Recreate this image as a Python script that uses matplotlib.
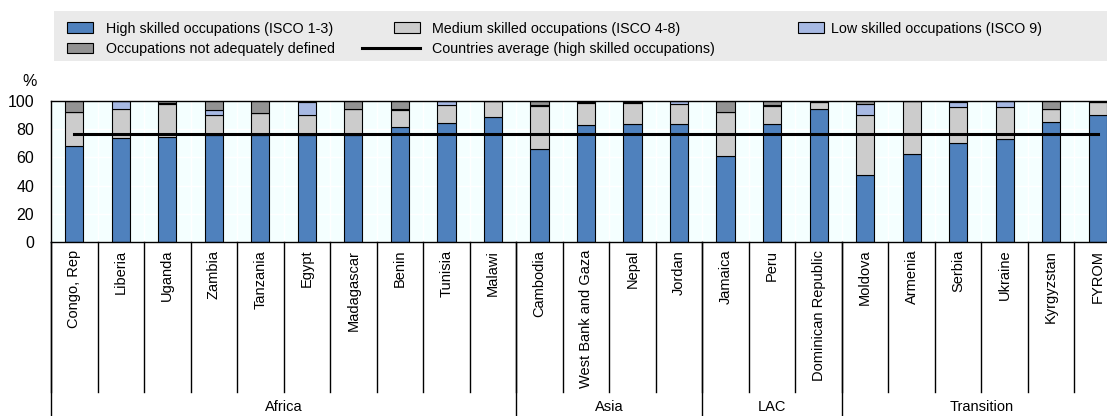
import matplotlib.pyplot as plt
import matplotlib.patches as mpatches
from matplotlib.lines import Line2D
from matplotlib.legend_handler import HandlerPatch
import numpy as np

plt.rcParams['font.family'] = ['Liberation Sans', 'DejaVu Sans']

countries = ['Congo, Rep', 'Liberia', 'Uganda', 'Zambia', 'Tanzania', 'Egypt',
             'Madagascar', 'Benin', 'Tunisia', 'Malawi',
             'Cambodia', 'West Bank and Gaza', 'Nepal', 'Jordan',
             'Jamaica', 'Peru', 'Dominican Republic',
             'Moldova', 'Armenia', 'Serbia', 'Ukraine', 'Kyrgyzstan', 'FYROM']
group_names = ['Africa', 'Asia', 'LAC', 'Transition']
group_sizes = [10, 4, 3, 6]

high = [68, 73.5, 74.5, 76, 76, 76, 76, 81.5, 84.5, 89,
        66, 83, 83.5, 84,
        61, 84, 94,
        47.5, 62.5, 70, 73, 85, 90]
medium = [24, 20.5, 23.5, 14, 15.5, 14, 18.5, 12, 12.5, 11,
          30.5, 15.5, 15, 14,
          31.5, 12.5, 5.5,
          42.5, 37.5, 26, 23, 9, 9]
low = [0, 6, 0.5, 3.5, 0, 9, 0, 0.5, 3, 0,
       0.5, 1, 0.5, 2,
       0, 1, 0,
       8, 0, 3.5, 4, 0, 0]
not_defined = [8, 0, 1.5, 6.5, 8.5, 1, 5.5, 6, 0, 0,
               3, 0.5, 1, 0,
               7.5, 2.5, 0.5,
               2, 0, 0.5, 0, 6, 1]
average = 76.7

c_high = '#4F81BD'
c_med = '#CCCCCC'
c_low = '#A7B9E3'
c_nd = '#939393'

W, H = 1107, 416
fig = plt.figure(figsize=(W / 100, H / 100), dpi=100)
ax = fig.add_axes([51 / W, 1 - 242 / H, 1070 / W, 141 / H])
ax.set_facecolor('#F4FFFF')

x = np.arange(len(countries))
bottom = np.zeros(len(countries))
for vals, col in [(high, c_high), (medium, c_med), (low, c_low), (not_defined, c_nd)]:
    ax.bar(x, vals, 0.39, bottom=bottom, color=col, edgecolor='black', linewidth=0.8, zorder=2)
    bottom += np.array(vals)

ax.plot(x, np.full(len(x), average), color='black', lw=2.2, zorder=3)

ax.set_xlim(-0.5, len(countries) - 0.5)
ax.set_ylim(0, 100)
ax.set_yticks(range(0, 101, 20))
ax.set_xticks([])
ax.set_xticks(x[:-1] + 0.5, minor=True)
ax.grid(axis='y', color='white', lw=1, zorder=0)
ax.grid(axis='x', which='minor', color='white', lw=1, zorder=0)
ax.set_axisbelow(True)
ax.tick_params(axis='y', length=0, pad=12, labelsize=11.5)
ax.tick_params(axis='x', which='both', length=0)
for s in ['left', 'top', 'bottom']:
    ax.spines[s].set_color('black')
    ax.spines[s].set_linewidth(1)
ax.spines['right'].set_visible(False)

# category labels and separators below the axis
trans = ax.get_xaxis_transform()
for i, name in enumerate(countries):
    ax.text(i, -0.055, name, transform=trans, rotation=90, ha='center', va='top', fontsize=10.5)
for b in np.append(x - 0.5, len(x) - 0.5):
    ax.plot([b, b], [0, -1.064], transform=trans, color='black', lw=1, clip_on=False)

edges = np.concatenate([[0], np.cumsum(group_sizes)]) - 0.5
for e in edges:
    ax.plot([e, e], [0, -1.4], transform=trans, color='black', lw=1, clip_on=False)
for name, a, b in zip(group_names, edges[:-1], edges[1:]):
    ax.text((a + b) / 2, -1.168, name, transform=trans, ha='center', va='center', fontsize=10.5)

fig.text(30 / W, 1 - 82 / H, '%', ha='center', va='center', fontsize=11.5)

# legend
fig.patches.append(mpatches.Rectangle((54 / W, 1 - 61 / H), (W - 54) / W, 50 / H,
                                      transform=fig.transFigure, facecolor='#EAEAEA',
                                      edgecolor='none', zorder=0))
fs = 10.3


def short_patch(legend, orig_handle, xdescent, ydescent, width, height, fontsize):
    pw = 1.82 * fontsize
    return mpatches.Rectangle((-xdescent + width - pw, -ydescent), pw, height)


def patch(c):
    return mpatches.Patch(facecolor=c, edgecolor='black', lw=0.8)


leg_kw = dict(loc='upper left', frameon=False, borderpad=0, borderaxespad=0,
              fontsize=fs, labelspacing=0.45)
top = 1 - 21.5 / H
fig.legend([patch(c_high), patch(c_nd)],
           ['High skilled occupations (ISCO 1-3)', 'Occupations not adequately defined'],
           bbox_to_anchor=(67 / W, top), handlelength=1.82, handletextpad=0.91, **leg_kw)
fig.legend([patch(c_med), Line2D([], [], color='black', lw=2.2)],
           ['Medium skilled occupations (ISCO 4-8)', 'Countries average (high skilled occupations)'],
           bbox_to_anchor=(362 / W, top), handlelength=4.06, handletextpad=0.84,
           handler_map={mpatches.Patch: HandlerPatch(patch_func=short_patch)}, **leg_kw)
fig.legend([patch(c_low)], ['Low skilled occupations (ISCO 9)'],
           bbox_to_anchor=(798 / W, top), handlelength=1.82, handletextpad=0.49, **leg_kw)

fig.savefig('out.png', dpi=100)
